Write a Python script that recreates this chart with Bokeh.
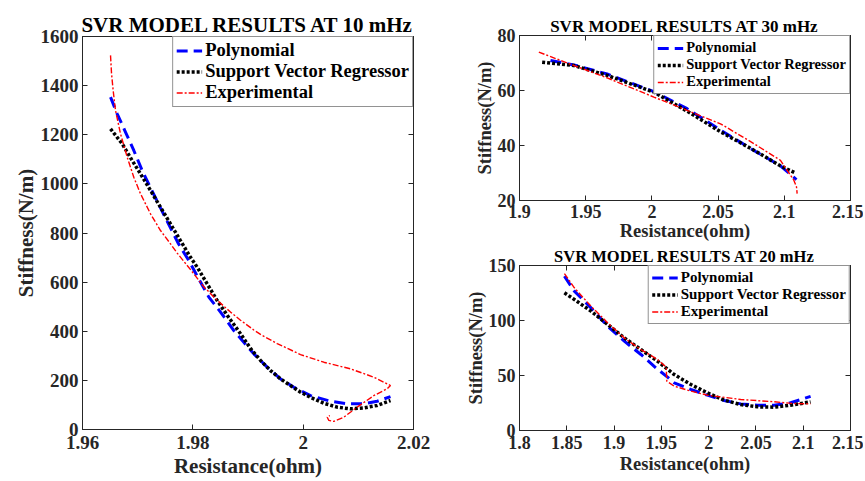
from bokeh.plotting import figure
from bokeh.models import (LinearAxis, FixedTicker, NumeralTickFormatter, Range1d, Legend,
                          LegendItem, CustomJSTickFormatter)
from bokeh.layouts import row, column
from bokeh.embed import file_html
from bokeh.resources import INLINE

FONT = "Liberation Serif"
DARK = "#262626"

# ---------------- data: 10 mHz ----------------
res10_poly = [1.96508, 1.96629, 1.96779, 1.96930, 1.97082, 1.97233, 1.97414, 1.97572, 1.97740,
              1.97927, 1.98108, 1.98290, 1.98502, 1.98743, 1.98924, 1.99105, 1.99348, 1.99589,
              1.99830, 2.00133, 2.00496, 2.00798, 2.01099, 2.01342, 2.01583]
stiff10_poly = [1353, 1285, 1211, 1136, 1054, 984, 902, 831, 756, 688, 613, 539, 478, 403, 355,
                308, 254, 206, 172, 138, 115, 105, 105, 115, 134]

res10_svr = [1.96508, 1.96720, 1.96901, 1.97051, 1.97233, 1.97414, 1.97595, 1.97776, 1.97958,
             1.98079, 1.98260, 1.98442, 1.98623, 1.98864, 1.99045, 1.99227, 1.99408, 1.99589,
             1.99770, 1.99952, 2.00133, 2.00374, 2.00617, 2.00858, 2.01099, 2.01342, 2.01583]
stiff10_svr = [1224, 1163, 1095, 1041, 973, 905, 837, 769, 701, 661, 593, 525, 465, 390, 330,
               281, 240, 206, 179, 152, 131, 107, 91, 84, 88, 98, 118]

res10_exp = [1.96508, 1.96526, 1.96556, 1.96598, 1.96689, 1.96810, 1.96930, 1.97051, 1.97233,
             1.97414, 1.97595, 1.97717, 1.97958, 1.98199, 1.98442, 1.98683, 1.98864, 1.99105,
             1.99227, 1.99529, 1.99952, 2.00374, 2.00858, 2.01280, 2.01583, 2.01523, 2.01280,
             2.00979, 2.00736, 2.00556, 2.00465, 2.00436, 2.00483]
stiff10_exp = [1523, 1450, 1380, 1299, 1204, 1109, 1027, 960, 878, 810, 756, 718, 651, 581, 526,
               478, 445, 405, 387, 350, 305, 274, 247, 213, 179, 166, 138, 91, 50, 33, 37, 50, 57]

# ---------------- data: 30 mHz ----------------
res30_poly = [1.9234, 1.9410, 1.9662, 2.0015, 2.0266, 2.0518, 2.0770, 2.0971, 2.1092]
stiff30_poly = [70.9, 69.3, 66.0, 59.6, 53.4, 45.6, 38.2, 32.6, 27.6]

res30_svr = [1.9171, 1.9410, 1.9662, 2.0015, 2.0266, 2.0518, 2.0770, 2.0971, 2.1084]
stiff30_svr = [70.3, 69.1, 65.5, 59.4, 52.5, 45.0, 38.3, 32.6, 30.0]

res30_exp = [1.9146, 1.9410, 1.9662, 2.0015, 2.0266, 2.0518, 2.0770, 2.0971, 2.1072, 2.1092, 2.1097]
stiff30_exp = [73.95, 69.1, 64.6, 57.6, 52.8, 47.9, 40.7, 34.6, 27.4, 25.0, 22.5]

# ---------------- data: 20 mHz ----------------
res20_poly = [1.8475, 1.8580, 1.8756, 1.8932, 1.9108, 1.9284, 1.9442, 1.9565, 1.9636, 1.9812,
              1.9987, 2.0163, 2.0339, 2.0515, 2.0691, 2.0867, 2.1078]
stiff20_poly = [140.3, 126.7, 111.5, 94.8, 81.2, 69.1, 57.0, 48.5, 43.3, 37.3, 32.1, 27.3,
                24.2, 23.0, 23.0, 25.2, 31.0]

res20_svr = [1.8475, 1.8580, 1.8756, 1.8932, 1.9108, 1.9284, 1.9460, 1.9636, 1.9812, 1.9987,
             2.0163, 2.0339, 2.0515, 2.0691, 2.0867, 2.1078]
stiff20_svr = [125.2, 119.1, 108.5, 96.4, 84.2, 73.6, 63.0, 50.9, 41.8, 34.2, 27.6, 23.6,
               21.5, 21.2, 23.0, 26.0]

res20_exp = [1.8475, 1.8580, 1.8756, 1.8932, 1.9108, 1.9284, 1.9460, 1.9551, 1.9558, 1.9636,
             1.9812, 1.9987, 2.0339, 2.0691, 2.0902, 2.1078]
stiff20_exp = [142.7, 129.7, 113.0, 97.9, 84.2, 73.6, 64.5, 57.6, 44.8, 40.3, 35.8, 32.1,
               28.2, 26.1, 24.5, 24.2]

# ---------------- ticks / texts ----------------
x10_ticks = [1.96, 1.98, 2.0, 2.02]
y10_ticks = [0, 200, 400, 600, 800, 1000, 1200, 1400, 1600]
x30_ticks = [1.9, 1.95, 2.0, 2.05, 2.1, 2.15]
y30_ticks = [20, 40, 60, 80]
x20_ticks = [1.8, 1.85, 1.9, 1.95, 2.0, 2.05, 2.1, 2.15]
y20_ticks = [0, 50, 100, 150]

labels = ["Polynomial", "Support Vector Regressor", "Experimental"]
titles = ["SVR MODEL RESULTS AT 10 mHz", "SVR MODEL RESULTS AT 30 mHz", "SVR MODEL RESULTS AT 20 mHz"]


def style_axis(ax, tick_size, label_size, tick_gap, label_gap):
    ax.major_tick_in = 5
    ax.major_tick_out = 0
    ax.minor_tick_in = 0
    ax.minor_tick_out = 0
    ax.axis_line_color = DARK
    ax.major_tick_line_color = DARK
    ax.major_label_text_font = FONT
    ax.major_label_text_font_style = "bold"
    ax.major_label_text_font_size = tick_size
    ax.major_label_text_color = DARK
    ax.major_label_standoff = tick_gap
    ax.axis_label_text_font = FONT
    ax.axis_label_text_font_style = "bold"
    ax.axis_label_text_font_size = label_size
    ax.axis_label_text_color = DARK
    ax.axis_label_standoff = label_gap


def build(title, w, h, borders, xr, yr, xt, yt, data, title_size, label_size, tick_size,
          leg_size, leg_row, leg_pad, xgaps):
    p = figure(width=w, height=h, x_range=Range1d(*xr), y_range=Range1d(*yr),
               output_backend="svg", toolbar_location=None,
               min_border_left=borders[0], min_border_right=borders[1],
               min_border_top=borders[2], min_border_bottom=borders[3],
               x_axis_label="Resistance(ohm)", y_axis_label="Stiffness(N/m)")
    p.background_fill_color = "white"
    p.border_fill_color = "white"
    p.outline_line_color = DARK
    p.xgrid.visible = False
    p.ygrid.visible = False

    p.title.text = title
    p.title.text_font = FONT
    p.title.text_font_style = "bold"
    p.title.text_font_size = title_size
    p.title.text_color = "black"
    p.title.align = "center"
    p.title.standoff = 0

    p.xaxis.ticker = FixedTicker(ticks=xt)
    p.yaxis.ticker = FixedTicker(ticks=yt)
    p.xaxis.formatter = NumeralTickFormatter(format="0.[00]")
    for ax in p.xaxis:
        style_axis(ax, tick_size, label_size, xgaps[0], xgaps[1])
    for ax in p.yaxis:
        style_axis(ax, tick_size, label_size, 4, 0)

    blank = CustomJSTickFormatter(code="return '';")
    top = LinearAxis(ticker=FixedTicker(ticks=xt), formatter=blank)
    right = LinearAxis(ticker=FixedTicker(ticks=yt), formatter=blank)
    for ax in (top, right):
        style_axis(ax, tick_size, label_size, 0, 0)
    p.add_layout(top, "above")
    p.add_layout(right, "right")

    (xp, yp), (xs, ys), (xe, ye) = data
    r1 = p.line(xp, yp, line_color="#0000FF", line_width=3, line_dash="11 6")
    r2 = p.line(xs, ys, line_color="black", line_width=3.5, line_dash="3 2")
    r3 = p.line(xe, ye, line_color="#FF0000", line_width=1.4, line_dash="6 2 2 2")

    legend = Legend(items=[LegendItem(label=labels[0], renderers=[r1]),
                           LegendItem(label=labels[1], renderers=[r2]),
                           LegendItem(label=labels[2], renderers=[r3])],
                    location="top_right", margin=0, padding=leg_pad, spacing=0,
                    label_standoff=3, glyph_width=26, glyph_height=leg_row,
                    label_height=leg_row,
                    label_text_font=FONT, label_text_font_style="bold",
                    label_text_font_size=leg_size, label_text_color="black",
                    border_line_color=DARK, border_line_width=1,
                    background_fill_color="white", background_fill_alpha=1)
    p.add_layout(legend)
    return p


p10 = build(titles[0], 438, 481, (82, 25, 36, 52), (1.96, 2.02), (0, 1600),
            x10_ticks, y10_ticks,
            ((res10_poly, stiff10_poly), (res10_svr, stiff10_svr), (res10_exp, stiff10_exp)),
            "21px", "21px", "19px", "18.5px", 21, 3, (6, 2))
p30 = build(titles[1], 425, 244, (81, 13, 35, 44), (1.9, 2.15), (20, 80),
            x30_ticks, y30_ticks,
            ((res30_poly, stiff30_poly), (res30_svr, stiff30_svr), (res30_exp, stiff30_exp)),
            "17px", "18.5px", "18px", "14.5px", 16, 3, (4, 0))
p20 = build(titles[2], 425, 237, (81, 13, 21, 51), (1.8, 2.15), (0, 150),
            x20_ticks, y20_ticks,
            ((res20_poly, stiff20_poly), (res20_svr, stiff20_svr), (res20_exp, stiff20_exp)),
            "16.5px", "18.5px", "18px", "15px", 17, 3, (5, 2))

layout = row(p10, column(p30, p20))
open("out.html", "w").write(file_html(layout, INLINE))
